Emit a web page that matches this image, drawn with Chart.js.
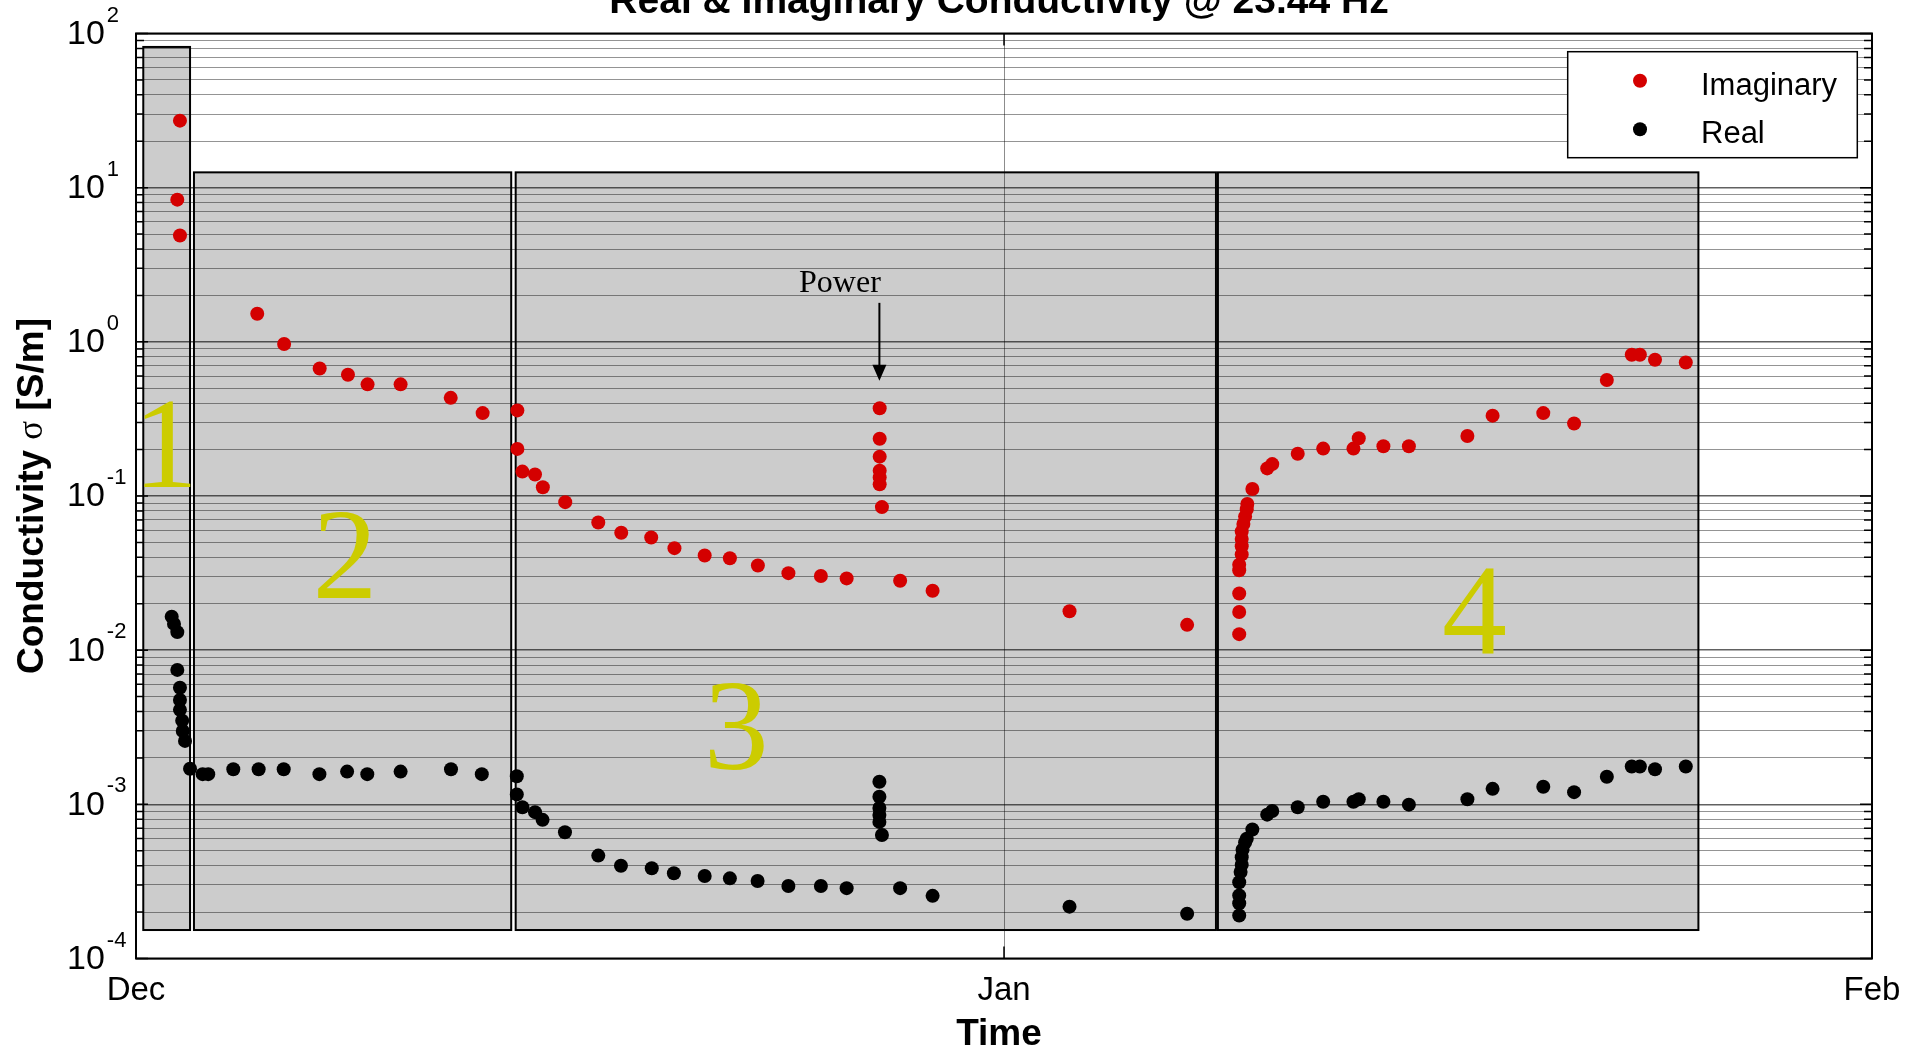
<!DOCTYPE html>
<html>
<head>
<meta charset="utf-8">
<script src="https://cdn.jsdelivr.net/npm/chart.js@4.4.1/dist/chart.umd.min.js"></script>
<style>
html,body{margin:0;padding:0;background:#fff;overflow:hidden}
canvas{display:block}
</style>
</head>
<body>
<canvas id="c" width="1921" height="1051" style="width:1921px;height:1051px"></canvas>
<script>
// ---------- data (x = days since Dec 1) ----------
const chartTitle = 'Real & Imaginary Conductivity @ 23.44 Hz';
const seriesNames = ['Imaginary', 'Real'];
const imagDays = [1.57,1.475,1.57, 4.33,5.29,6.56,7.57,8.27,9.45,11.24,12.38,
  13.62,13.62,13.80,14.25,14.53,15.33,16.51,17.33,18.40,19.23,20.31,21.21,22.21,23.30,24.46,25.38,
  26.56,26.56,26.56,26.56,26.56,26.56,26.64, 27.29,28.45, 33.34,37.54,
  39.40,39.40,39.40,39.40,39.40,39.49,39.49,39.49,39.49,39.55,39.61,39.67,39.69,39.87,40.40,40.58,
  41.49,42.40,43.48,43.67,44.55,45.46,47.55,48.45,50.26,51.36,52.53,53.42,53.71,54.25,55.35];
const imagValues = [27.2,8.36,4.90, 1.52,0.968,0.671,0.612,0.530,0.530,0.433,0.345,
  0.359,0.202,0.144,0.138,0.114,0.0912,0.0673,0.0577,0.0538,0.0459,0.0411,0.0395,0.0354,0.0316,0.0303,0.0292,
  0.371,0.235,0.180,0.146,0.132,0.119,0.0847, 0.0282,0.0243, 0.0179,0.0146,
  0.0127,0.0177,0.0233,0.0330,0.0358,0.0418,0.0472,0.0527,0.0589,0.0658,0.0735,0.0821,0.0889,0.111,0.151,0.161,
  0.188,0.203,0.203,0.237,0.210,0.210,0.245,0.332,0.345,0.295,0.565,0.824,0.824,0.766,0.734];
const realDays = [1.275,1.357,1.475,1.475,1.57,1.57,1.57,1.65,1.67,1.75,1.93,
  2.38,2.58,3.475,4.38,5.275,6.55,7.54,8.26,9.45,11.25,12.35,
  13.60,13.60,13.80,14.25,14.52,15.32,16.51,17.32,18.42,19.21,20.31,21.21,22.20,23.30,24.46,25.38,
  26.55,26.55,26.55,26.55,26.55,26.64, 27.29,28.45, 33.34,37.54,
  39.40,39.40,39.40,39.40,39.45,39.49,39.49,39.52,39.61,39.67,39.87,40.40,40.58,41.49,42.40,43.48,
  43.67,44.55,45.46,47.55,48.45,50.26,51.36,52.53,53.42,53.71,54.25,55.35];
const realValues = [0.0165,0.0148,0.0131,0.00745,0.00571,0.00475,0.00410,0.00349,0.00299,0.00258,0.00170,
  0.00157,0.00157,0.00169,0.00169,0.00169,0.00157,0.00163,0.00157,0.00163,0.00169,0.00157,
  0.00152,0.00116,0.000957,0.000890,0.000793,0.000659,0.000465,0.000400,0.000385,0.000357,0.000343,0.000331,0.000318,0.000295,0.000295,0.000286,
  0.00140,0.00112,0.000948,0.000853,0.000769,0.000633, 0.000286,0.000255, 0.000217,0.000195,
  0.000190,0.000228,0.000256,0.000312,0.000364,0.000406,0.000454,0.000507,0.000566,0.000598,0.000687,0.000857,0.000906,0.000957,0.00104,0.00104,
  0.00108,0.00104,0.000995,0.00108,0.00126,0.00130,0.00120,0.00151,0.00176,0.00176,0.00169,0.00176];
const xTickDays = [0, 31, 62];
const xTickLabels = ['Dec', 'Jan', 'Feb'];
const yMinExp = -4, yMaxExp = 2;
const xAxisTitle = 'Time';
const yAxisTitleParts = ['Conductivity ', 'σ', ' [S/m]'];
// shaded periods (days / S/m)
const regionNames = ['1', '2', '3', '4'];
const regionStart = [0.26, 2.07, 13.56, 38.64];
const regionEnd = [1.93, 13.40, 38.57, 55.80];
const regionTop = [81.8, 12.57, 12.57, 12.57];
const regionBottom = [1.53e-4, 1.53e-4, 1.53e-4, 1.53e-4];
const regionLabelDays = [1.05, 7.46, 21.44, 47.80];
const regionLabelValues = [0.114, 0.0219, 0.00170, 0.00946];
// "Power" annotation
const powerText = 'Power';
const powerTextDay = 25.14, powerTextValue = 2.11;
const powerArrowDay = 26.55, powerArrowFrom = 1.79, powerArrowTo = 0.56;

// ---------- helpers ----------
const SANS = '"Liberation Sans", Arial, Helvetica, sans-serif';
const SERIF = '"Liberation Serif", "Times New Roman", serif';
const RED = '#d40000';

const yTickValues = [];
for (let e = yMinExp; e < yMaxExp; e++) {
  for (let m = 1; m <= 9; m++) yTickValues.push(Number((m * Math.pow(10, e)).toPrecision(3)));
}
yTickValues.push(Math.pow(10, yMaxExp));
const isMajor = v => Math.abs(Math.log10(v) - Math.round(Math.log10(v))) < 1e-9;

const decor = {
  id: 'decor',
  beforeDraw(chart) {
    const {ctx, scales: {x, y}} = chart;
    ctx.save();
    ctx.fillStyle = '#fff';
    ctx.fillRect(0, 0, chart.width, chart.height);
    ctx.fillStyle = '#cccccc';
    for (let i = 0; i < regionNames.length; i++) {
      const l = x.getPixelForValue(regionStart[i]), r = x.getPixelForValue(regionEnd[i]);
      const t = y.getPixelForValue(regionTop[i]), b = y.getPixelForValue(regionBottom[i]);
      ctx.fillRect(l, t, r - l, b - t);
    }
    ctx.restore();
  },
  beforeDatasetsDraw(chart) {
    const {ctx, chartArea: a, scales: {x, y}} = chart;
    ctx.save();
    ctx.strokeStyle = '#000';
    ctx.lineWidth = 2;
    for (let i = 0; i < regionNames.length; i++) {
      const l = x.getPixelForValue(regionStart[i]), r = x.getPixelForValue(regionEnd[i]);
      const t = y.getPixelForValue(regionTop[i]), b = y.getPixelForValue(regionBottom[i]);
      ctx.strokeRect(l, t, r - l, b - t);
    }
    // axes box
    ctx.strokeRect(a.left, a.top, a.right - a.left, a.bottom - a.top);
    // inside ticks
    ctx.lineWidth = 1.5;
    ctx.beginPath();
    yTickValues.forEach(v => {
      const py = y.getPixelForValue(v);
      const len = isMajor(v) ? 12 : 8;
      ctx.moveTo(a.left, py); ctx.lineTo(a.left + len, py);
      ctx.moveTo(a.right, py); ctx.lineTo(a.right - len, py);
    });
    xTickDays.forEach(d => {
      const px = x.getPixelForValue(d);
      ctx.moveTo(px, a.bottom); ctx.lineTo(px, a.bottom - 12);
      ctx.moveTo(px, a.top); ctx.lineTo(px, a.top + 12);
    });
    ctx.stroke();
    ctx.restore();
  },
  afterDraw(chart) {
    const {ctx, chartArea: a, scales: {x, y}} = chart;
    const midX = (a.left + a.right) / 2 - 5;
    ctx.save();
    ctx.fillStyle = '#000';
    // y tick labels 10^n
    for (let e = yMinExp; e <= yMaxExp; e++) {
      const py = y.getPixelForValue(Math.pow(10, e));
      ctx.font = '34px ' + SANS;
      ctx.textAlign = 'left';
      ctx.textBaseline = 'middle';
      ctx.fillText('10', 67, py + 1);
      const w = ctx.measureText('10').width;
      ctx.font = '22px ' + SANS;
      ctx.textBaseline = 'alphabetic';
      ctx.fillText(String(e), 67 + w + 2, py - 12);
    }
    // title
    ctx.font = 'bold 39px ' + SANS;
    ctx.textAlign = 'center';
    ctx.textBaseline = 'alphabetic';
    ctx.fillText(chartTitle, midX, 13);
    // x title
    ctx.font = 'bold 37px ' + SANS;
    ctx.fillText(xAxisTitle, midX, 1045);
    // y title (rotated, mixed fonts)
    ctx.save();
    ctx.translate(31, (a.top + a.bottom) / 2);
    ctx.rotate(-Math.PI / 2);
    const fonts = ['bold 37px ' + SANS, '35px ' + SERIF, 'bold 37px ' + SANS];
    let total = 0;
    const widths = yAxisTitleParts.map((s, i) => { ctx.font = fonts[i]; const w = ctx.measureText(s).width; total += w; return w; });
    let cx = -total / 2;
    ctx.textAlign = 'left';
    ctx.textBaseline = 'middle';
    yAxisTitleParts.forEach((s, i) => { ctx.font = fonts[i]; ctx.fillText(s, cx, 2); cx += widths[i]; });
    ctx.restore();
    // region numbers
    ctx.font = '130px ' + SERIF;
    ctx.fillStyle = '#cccc00';
    ctx.textAlign = 'center';
    ctx.textBaseline = 'alphabetic';
    regionNames.forEach((n, i) => {
      ctx.fillText(n, x.getPixelForValue(regionLabelDays[i]), y.getPixelForValue(regionLabelValues[i]));
    });
    // Power annotation
    ctx.fillStyle = '#000';
    ctx.font = '32px ' + SERIF;
    ctx.fillText(powerText, x.getPixelForValue(powerTextDay), y.getPixelForValue(powerTextValue));
    const ax = x.getPixelForValue(powerArrowDay);
    const ay0 = y.getPixelForValue(powerArrowFrom), ay1 = y.getPixelForValue(powerArrowTo);
    ctx.strokeStyle = '#000';
    ctx.lineWidth = 2;
    ctx.beginPath(); ctx.moveTo(ax, ay0); ctx.lineTo(ax, ay1 - 14); ctx.stroke();
    ctx.beginPath(); ctx.moveTo(ax, ay1); ctx.lineTo(ax - 7, ay1 - 16); ctx.lineTo(ax + 7, ay1 - 16); ctx.closePath(); ctx.fill();
    // legend
    const lw = 289.6, lh = 106;
    const lx = a.right - 304.3, ly = a.top + 18.2;
    ctx.fillStyle = '#fff';
    ctx.fillRect(lx, ly, lw, lh);
    ctx.lineWidth = 1.5;
    ctx.strokeRect(lx, ly, lw, lh);
    const colors = [RED, '#000'];
    seriesNames.forEach((n, i) => {
      const cy = ly + 29 + i * 48.6;
      ctx.fillStyle = colors[i];
      ctx.beginPath(); ctx.arc(lx + 72.3, cy, 7, 0, Math.PI * 2); ctx.fill();
      ctx.fillStyle = '#000';
      ctx.font = '31px ' + SANS;
      ctx.textAlign = 'left';
      ctx.textBaseline = 'alphabetic';
      ctx.fillText(n, lx + 133.3, cy + 14);
    });
    ctx.restore();
  }
};

const toPoints = (xs, ys) => xs.map((d, i) => ({x: d, y: ys[i]}));

new Chart(document.getElementById('c'), {
  type: 'scatter',
  data: {
    datasets: [
      {label: seriesNames[0], data: toPoints(imagDays, imagValues), backgroundColor: RED, borderWidth: 0, pointRadius: 7, pointHoverRadius: 7},
      {label: seriesNames[1], data: toPoints(realDays, realValues), backgroundColor: '#000', borderWidth: 0, pointRadius: 7, pointHoverRadius: 7}
    ]
  },
  options: {
    responsive: false,
    animation: false,
    events: [],
    layout: {padding: {left: 0, right: 49, top: 33.5, bottom: 0}},
    plugins: {legend: {display: false}, title: {display: false}, tooltip: {enabled: false}},
    scales: {
      x: {
        type: 'linear', min: xTickDays[0], max: xTickDays[xTickDays.length - 1],
        afterBuildTicks: s => { s.ticks = xTickDays.map(v => ({value: v})); },
        afterFit: s => { s.height = 92.5; },
        border: {display: false},
        grid: {color: 'rgba(0,0,0,0.45)', lineWidth: 1, drawTicks: false},
        ticks: {
          autoSkip: false, maxRotation: 0, padding: 13, color: '#000',
          font: {family: SANS, size: 33},
          callback: (v) => { const i = xTickDays.indexOf(v); return i >= 0 ? xTickLabels[i] : ''; }
        }
      },
      y: {
        type: 'logarithmic', min: Math.pow(10, yMinExp), max: Math.pow(10, yMaxExp),
        afterBuildTicks: s => { s.ticks = yTickValues.map(v => ({value: v})); },
        afterFit: s => { s.width = 136; },
        border: {display: false},
        grid: {
          drawTicks: false,
          color: c => (c.tick && isMajor(c.tick.value)) ? 'rgba(0,0,0,0.62)' : 'rgba(0,0,0,0.42)',
          lineWidth: c => (c.tick && isMajor(c.tick.value)) ? 1.5 : 1
        },
        ticks: {display: false}
      }
    }
  },
  plugins: [decor]
});
</script>
</body>
</html>
